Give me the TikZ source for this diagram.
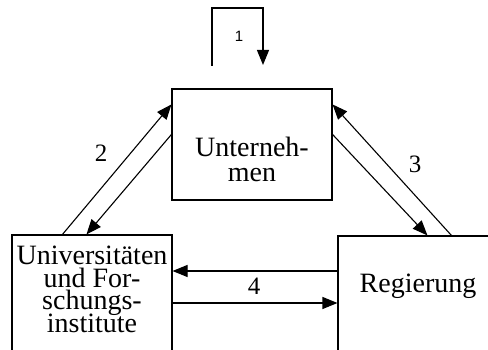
\documentclass[tikz,border=0pt]{standalone}
\usepackage{fontspec}
\setmainfont{Liberation Serif}
\newfontfamily\labelsans{Liberation Sans}
\usetikzlibrary{arrows.meta}
\begin{document}
\begin{tikzpicture}[x=1pt,y=1pt,
  box/.style={draw, line width=1.1pt, inner sep=0pt},
  txt/.style={inner sep=0pt, anchor=base, font=\fontsize{28}{23}\selectfont},
  lbl/.style={inner sep=0pt, font=\fontsize{25}{25}\selectfont},
  conn/.style={line width=1.1pt},
  arr/.style={conn, -{Triangle[length=15pt,width=12pt]}}]
\clip (0,0) rectangle (488,350);
\fill[white] (0,0) rectangle (488,350);
% boxes
\node[box, minimum width=160pt, minimum height=111pt] (unt) at (252,205.5) {};
\node[box, minimum width=160pt, minimum height=135pt] (uni) at (92,47.5) {};
\node[box, minimum width=162pt, minimum height=134pt] (reg) at (419,47) {};
% texts
\node[txt] (unt1) at (252,193) {Unterneh-};
\node[txt] (unt2) at (252,168) {men};
\node[txt] (uni1) at (92,85) {Universitäten};
\node[txt] (uni2) at (92,62) {und For-};
\node[txt] (uni3) at (92,40) {schungs-};
\node[txt] (uni4) at (92,17) {institute};
\node[txt] (reg1) at (418,57) {Regierung};
% loop 1
\coordinate (l1a) at (212,284);
\coordinate (l1b) at (263,285);
\draw[arr] (l1a) |- (238,342) -| (l1b);
\node[inner sep=0pt, font=\labelsans\fontsize{15}{15}\selectfont] (n1) at (239,314) {1};
% arrows 2
\draw[arr] ([xshift=51pt]uni.north west) -- ([yshift=-16pt]unt.north west);
\draw[arr] ([yshift=-46pt]unt.north west) -- ([xshift=75pt]uni.north west);
\node[lbl] (n2) at (101,197) {2};
% arrows 3
\draw[arr] ([yshift=-46pt]unt.north east) -- ([xshift=90pt]reg.north west);
\draw[arr] ([xshift=114pt]reg.north west) -- ([yshift=-16pt]unt.north east);
\node[lbl] (n3) at (415,186) {3};
% arrows 4
\draw[arr] ([yshift=32pt]reg.west) -- ([yshift=32pt]uni.east |- reg.west);
\draw[arr] (uni.east |- reg.west) -- (reg.west);
\node[lbl] (n4) at (254,64) {4};
\end{tikzpicture}
\end{document}
